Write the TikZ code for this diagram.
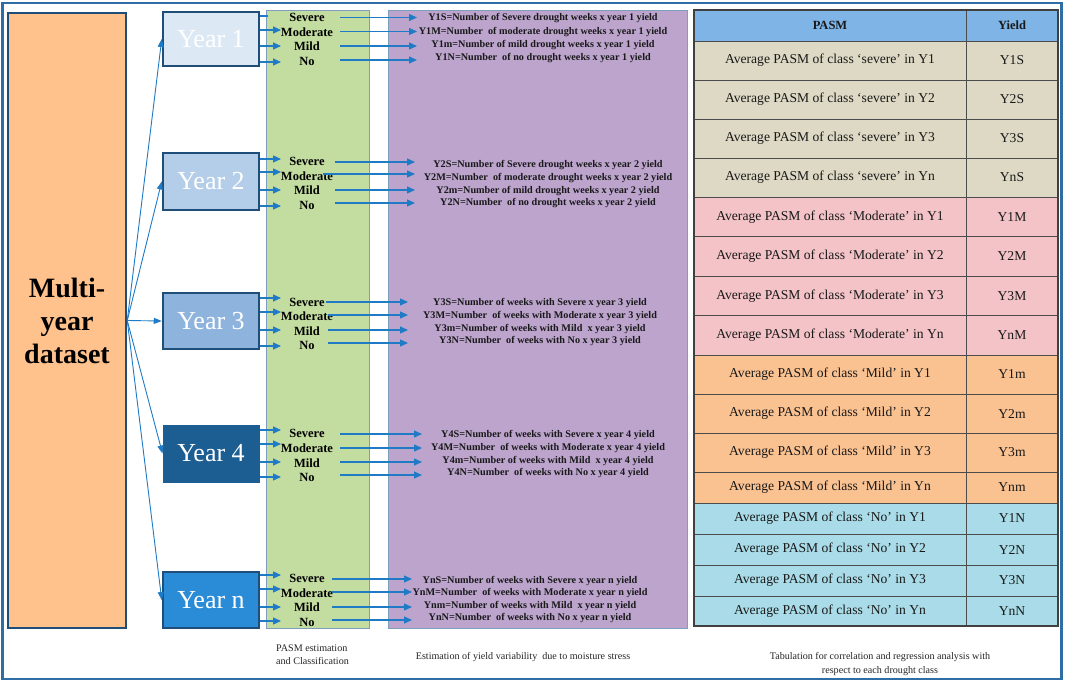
\documentclass[tikz,border=0pt]{standalone}
\usepackage{fontspec}
\setmainfont{Liberation Serif}
\usetikzlibrary{arrows.meta}
\definecolor{frameblue}{HTML}{2F6EA5}
\definecolor{darkblue}{HTML}{1F4E79}
\definecolor{orangefill}{HTML}{FFC28C}
\definecolor{yafill}{HTML}{DCE8F4}
\definecolor{ybfill}{HTML}{B4CEE9}
\definecolor{ycfill}{HTML}{8EB4DE}
\definecolor{ydfill}{HTML}{1C5D92}
\definecolor{yefill}{HTML}{2A8BD6}
\definecolor{greenfill}{HTML}{C3DC9F}
\definecolor{purplefill}{HTML}{BCA4CD}
\definecolor{colborder}{HTML}{7F9DBE}
\definecolor{arrowblue}{HTML}{1F7BC6}
\definecolor{hdrfill}{HTML}{7EB4E6}
\definecolor{sevfill}{HTML}{DDD9C4}
\definecolor{modfill}{HTML}{F3C3C7}
\definecolor{mildfill}{HTML}{FBC291}
\definecolor{nofill}{HTML}{A9DCE8}
\newcommand{\drgroup}[4]{%
  \foreach \ly/\sx/\ay/\ty/\lab/\txt [count=\i] in {#4} {
    \node[cls] (g#1c\i) at (307,\ly) {\lab};
    \coordinate (g#1s\i) at (\sx,\ay);
    \coordinate (g#1e\i) at (#2,\ay);
    \draw[arr] (g#1s\i) -- (g#1e\i);
    \node[ytxt] (g#1t\i) at (#3,\ty) {\txt};
  }%
}
\begin{document}
\begin{tikzpicture}[x=1pt,y=-1pt,
  yearbox/.style={draw=darkblue, line width=2.5pt, minimum width=96pt, text=white,
    font=\fontsize{26}{26}\selectfont, inner sep=0pt},
  arr/.style={draw=arrowblue, line width=1.1pt, -{Triangle[length=8pt,width=7pt]}},
  fan/.style={draw=arrowblue, line width=0.9pt, -{Triangle[length=8pt,width=6pt]}},
  plainline/.style={draw=arrowblue, line width=1.1pt},
  cls/.style={font=\bfseries\fontsize{12.5}{12.5}\selectfont, inner sep=0pt},
  ytxt/.style={font=\bfseries\fontsize{10.2}{10.2}\selectfont, inner sep=0pt, text=black!90},
  colbox/.style={draw=colborder, line width=0.8pt},
  cellline/.style={draw=black!70, line width=0.8pt},
  celltxt/.style={font=\fontsize{13.6}{13.6}\selectfont, inner sep=0pt, text=black!90},
  hdrtxt/.style={font=\bfseries\fontsize{12.5}{12.5}\selectfont, inner sep=0pt, text=black!90},
  note/.style={font=\fontsize{10.1}{13}\selectfont, inner sep=0pt, align=center, text=black!85}
]
\useasboundingbox (0,0) rectangle (1065,682);
\fill[white] (0,0) rectangle (1065,682);
% outer frame
\draw[frameblue, line width=2.2pt] (2.5,3) rectangle (1061.5,679);

% columns
\draw[colbox, fill=greenfill] (266,10.5) rectangle (369,628);
\draw[colbox, fill=purplefill] (388,10.5) rectangle (687,628);

% multi-year dataset
\node[draw=darkblue, line width=2.5pt, fill=orangefill, minimum width=118pt, minimum height=615pt,
  inner sep=0pt, align=center, font=\bfseries\fontsize{28}{33}\selectfont] (data) at (67,320.5)
  {Multi-\\year\\dataset};

% year boxes
\node[yearbox, fill=yafill, minimum height=54pt] (ya) at (211,39) {Year 1};
\node[yearbox, fill=ybfill, minimum height=57pt] (yb) at (211,181.5) {Year 2};
\node[yearbox, fill=ycfill, minimum height=56pt] (yc) at (211,321) {Year 3};
\node[yearbox, fill=ydfill, draw=ydfill, line width=1pt, minimum height=57pt] (yd) at (211,453.5) {Year 4};
\node[yearbox, fill=yefill, minimum height=56pt] (ye) at (211,600) {Year n};

% fan arrows
\foreach \n in {ya,yb,yc,yd,ye} \draw[fan] (data.east) -- (\n.west);

% short arrows from year boxes
\coordinate (sha0) at (260,16);
\coordinate (sha0e) at (268,16);
\draw[plainline] (sha0) -- (sha0e);
\foreach \ys [count=\i] in {30,46,62,159,172,190,206,298,312,330,346,430,444,462,477,575,589,607,621} {
  \coordinate (shs\i) at (260,\ys);
  \coordinate (she\i) at (281,\ys);
  \draw[arr] (shs\i) -- (she\i);
}

% class labels, long arrows, yield texts
\drgroup{a}{417}{543}{17/340/17.5/18.5/Severe/Y1S=Number of Severe drought weeks x year 1 yield,
  32/340/31.5/32/Moderate/Y1M=Number\ \ of moderate drought weeks x year 1 yield,
  46/340/46/45.5/Mild/Y1m=Number of mild drought weeks x year 1 yield,
  61/340/60/58.5/No/Y1N=Number\ \ of no drought weeks x year 1 yield}
\drgroup{b}{415}{548}{161/335/162/165/Severe/Y2S=Number of Severe drought weeks x year 2 yield,
  176/323/174/178/Moderate/Y2M=Number\ \ of moderate drought weeks x year 2 yield,
  190/335/190/191.5/Mild/Y2m=Number of mild drought weeks x year 2 yield,
  205/335/203/203.5/No/Y2N=Number\ \ of no drought weeks x year 2 yield}
\drgroup{c}{408}{540}{302/326/302/303.5/Severe/Y3S=Number of weeks with Severe x year 3 yield,
  316/328/315/316/Moderate/Y3M=Number\ \ of weeks with Moderate x year 3 yield,
  331/328/330/329/Mild/Y3m=Number of weeks with Mild\ \ x year 3 yield,
  345/328/343/341.5/No/Y3N=Number\ \ of weeks with No x year 3 yield}
\drgroup{d}{422}{548}{433/340/434/435.5/Severe/Y4S=Number of weeks with Severe x year 4 yield,
  448/340/448/448/Moderate/Y4M=Number\ \ of weeks with Moderate x year 4 yield,
  463/340/462/461/Mild/Y4m=Number of weeks with Mild\ \ x year 4 yield,
  477/340/475/473/No/Y4N=Number\ \ of weeks with No x year 4 yield}
\drgroup{e}{412}{530}{578/332/579/581/Severe/YnS=Number of weeks with Severe x year n yield,
  593/332/592/593/Moderate/YnM=Number\ \ of weeks with Moderate x year n yield,
  607/332/607/606/Mild/Ynm=Number of weeks with Mild\ \ x year n yield,
  622/332/620/618/No/YnN=Number\ \ of weeks with No x year n yield}

% table
\fill[hdrfill] (694,10) rectangle (1058,41);
\node[hdrtxt] (hp) at (830,25.5) {PASM};
\node[hdrtxt] (hy) at (1012,25.5) {Yield};
\foreach \t/\b/\fc/\ptxt/\yv [count=\i] in {
  41/80/sevfill/{`severe' in Y1}/Y1S,
  80/119/sevfill/{`severe' in Y2}/Y2S,
  119/158/sevfill/{`severe' in Y3}/Y3S,
  158/197/sevfill/{`severe' in Yn}/YnS,
  197/236.5/modfill/{`Moderate' in Y1}/Y1M,
  236.5/276/modfill/{`Moderate' in Y2}/Y2M,
  276/315.5/modfill/{`Moderate' in Y3}/Y3M,
  315.5/355/modfill/{`Moderate' in Yn}/YnM,
  355/394/mildfill/{`Mild' in Y1}/Y1m,
  394/433/mildfill/{`Mild' in Y2}/Y2m,
  433/472/mildfill/{`Mild' in Y3}/Y3m,
  472/503/mildfill/{`Mild' in Yn}/Ynm,
  503/534/nofill/{`No' in Y1}/Y1N,
  534/565/nofill/{`No' in Y2}/Y2N,
  565/596/nofill/{`No' in Y3}/Y3N,
  596/626/nofill/{`No' in Yn}/YnN} {
  \fill[\fc] (694,\t) rectangle (1058,\b);
  \draw[cellline] (694,\t) -- (1058,\t);
  \node[celltxt] (rp\i) at (830,{(\t+\b)/2}) {Average PASM of class \ptxt};
  \node[celltxt] (ry\i) at (1012,{(\t+\b)/2}) {\yv};
}
\draw[cellline] (966,10) -- (966,626);
\draw[black!75, line width=1.2pt] (694,10) rectangle (1058,626);

% bottom notes
\node[note, align=left, anchor=west] (n1) at (276,655) {PASM estimation\\and Classification};
\node[note] (n2) at (523,657) {Estimation of yield variability\ \ due to moisture stress};
\node[note, font=\fontsize{10.1}{14}\selectfont] (n3) at (880,664) {Tabulation for correlation and regression analysis with\\respect to each drought class};
\end{tikzpicture}
\end{document}
